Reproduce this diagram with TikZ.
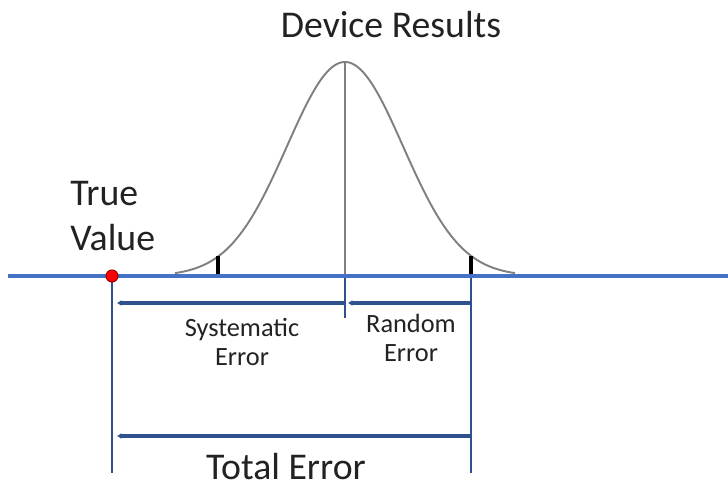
\documentclass[tikz,border=0pt]{standalone}
\usepackage{fontspec}
\setmainfont{Carlito}
\usepackage{xcolor}
\usetikzlibrary{arrows.meta,positioning}

\definecolor{axisblue}{RGB}{68,114,196}
\definecolor{barblue}{RGB}{47,82,143}
\definecolor{txtgray}{RGB}{34,34,34}

\begin{document}
\begin{tikzpicture}[
  x=0.02cm, y=-0.02cm,
  axis/.style={axisblue, line width=2pt},
  bar/.style={barblue, line width=1.4pt},
  span/.style={barblue, line width=1.8pt, -{Latex[length=2.5pt,width=3.5pt]}},
  curve/.style={gray, line width=1.1pt},
  tick/.style={black, line width=2pt},
  big/.style={text=txtgray, font=\fontsize{21.5}{26}\selectfont, inner sep=0pt},
  small/.style={text=txtgray, font=\fontsize{15}{17}\selectfont, align=center, inner sep=0pt}
]
\useasboundingbox (0,0) rectangle (728,487);

% key points on the axis
\coordinate (axL)  at (8,276);
\coordinate (axR)  at (728,276);
\coordinate (tv)   at (112,276);
\coordinate (mean) at (345,276);
\coordinate (peak) at (345,62);
\coordinate (lo)   at (218,276);
\coordinate (hi)   at (471,276);

% bell curve of the results
\draw[curve] plot[domain=175:515, samples=120]
  (\x, {276-214*exp(-0.5*((\x-345)/58)^2)});
\draw[curve] (peak) -- (mean);

% limits under the curve
\draw[tick] (lo) -- ++(0,-20);
\draw[tick] (hi) -- ++(0,-20);

% vertical markers
\draw[bar] (tv) -- ++(0,197) coordinate (tvB);
\draw[bar] (hi) -- ++(0,197) coordinate (hiB);
\draw[bar] (mean) -- ++(0,42);

% axis and true value
\draw[axis] (axL) -- (axR);
\fill[red, draw=red!60!black, line width=0.6pt] (tv) circle (6);

% error spans
\coordinate (sysL) at (117,303);
\coordinate (sysR) at (345,303);
\coordinate (rndL) at (348,303);
\coordinate (rndR) at (471,303);
\coordinate (totL) at (117,436);
\coordinate (totR) at (471,436);
\draw[span] (sysR) -- (sysL);
\draw[span] (rndR) -- (rndL);
\draw[span] (totR) -- (totL);

% labels
\node[big] (dev) at (391,25) {Device Results};
\node[big, align=left, anchor=west] (true) at (70,216) {True\\Value};
\node[small] (sys) at (242,342) {Systematic\\Error};
\node[small] (rnd) at (411,338) {Random\\Error};
\node[big] (tot) at (286,467) {Total Error};
\end{tikzpicture}
\end{document}
